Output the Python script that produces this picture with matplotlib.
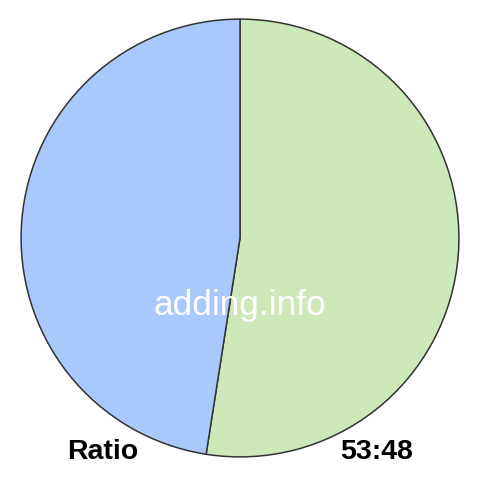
import matplotlib.pyplot as plt

labels = ["53", "48"]
values = [53, 48]
colors = ["#cde8b9", "#a9c8fc"]
ratio_label = "Ratio"
ratio_text = "53:48"
watermark = "adding.info"

plt.rcParams["font.family"] = ["Liberation Sans", "DejaVu Sans"]

fig = plt.figure(figsize=(4.8, 4.8), dpi=100)
ax = fig.add_axes([20 / 480, 22 / 480, 440 / 480, 440 / 480])
ax.pie(
    values,
    colors=colors,
    startangle=90,
    counterclock=False,
    radius=1.0,
    wedgeprops={"edgecolor": "#333333", "linewidth": 1.1},
)
ax.set_xlim(-1.005, 1.005)
ax.set_ylim(-1.005, 1.005)
ax.set_aspect("equal")
ax.axis("off")

fig.text(240 / 480, 1 - 306 / 480, watermark, color="white", fontsize=25.3,
         ha="center", va="center")
fig.text(103 / 480, 1 - 452 / 480, ratio_label, fontsize=20.5, fontweight="bold",
         ha="center", va="center")
fig.text(377 / 480, 1 - 452 / 480, ratio_text, fontsize=20.5, fontweight="bold",
         ha="center", va="center")

fig.savefig("out.png", dpi=100)
